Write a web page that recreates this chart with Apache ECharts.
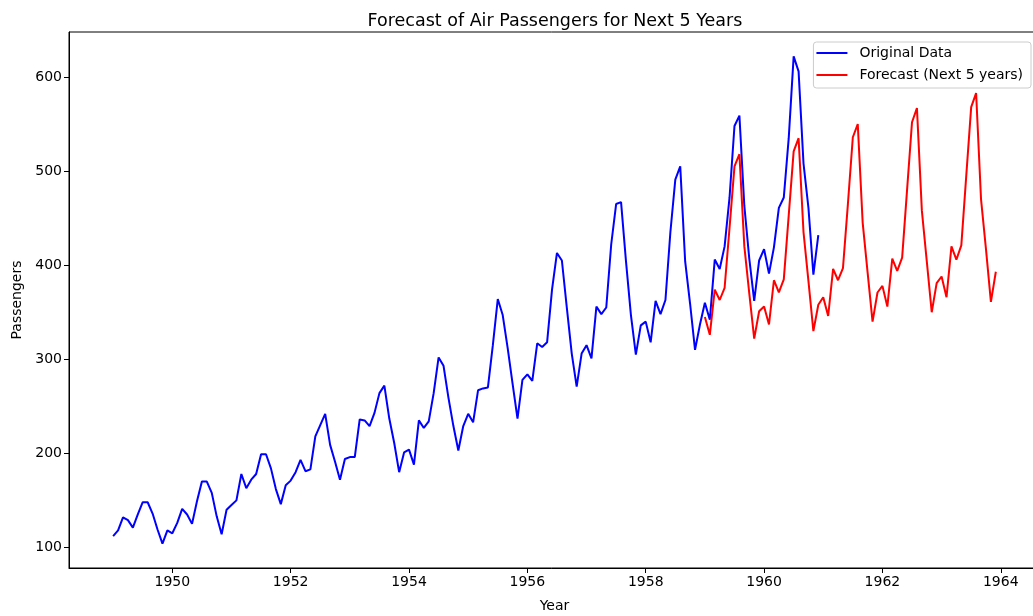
<!DOCTYPE html>
<html>
<head>
<meta charset="utf-8">
<script src="https://cdn.jsdelivr.net/npm/echarts@6/dist/echarts.min.js"></script>
<style>html,body{margin:0;padding:0;background:#fff;}#c{width:1033px;height:616px;}</style>
</head>
<body>
<div id="c"></div>
<script>
// Original monthly data, Jan 1949 – Dec 1960
const originalStartYear = 1949;
const originalValues = [
  112,118,132,129,121,135,148,148,136,119,104,118,
  115,126,141,135,125,149,170,170,158,133,114,140,
  145,150,178,163,172,178,199,199,184,162,146,166,
  171,180,193,181,183,218,230,242,209,191,172,194,
  196,196,236,235,229,243,264,272,237,211,180,201,
  204,188,235,227,234,264,302,293,259,229,203,229,
  242,233,267,269,270,315,364,347,312,274,237,278,
  284,277,317,313,318,374,413,405,355,306,271,306,
  315,301,356,348,355,422,465,467,404,347,305,336,
  340,318,362,348,363,435,491,505,404,359,310,337,
  360,342,406,396,420,472,548,559,463,407,362,405,
  417,391,419,461,472,535,622,606,508,461,390,432
];
// Forecast monthly data, Jan 1959 – Dec 1963
const forecastStartYear = 1959;
const forecastValues = [
  345,326,374,363,376,440,505,518,420,370,322,351,
  356,337,384,371,385,453,521,535,435,383,330,358,
  366,346,396,384,397,465,536,550,445,392,340,371,
  378,356,407,394,408,480,552,567,458,404,350,381,
  388,366,420,406,421,495,568,583,470,417,361,393
];
const xTicks = [1950,1952,1954,1956,1958,1960,1962,1964];
const yTicks = [100,200,300,400,500,600];

function toPairs(startYear, vals){
  return vals.map((v,i)=>[startYear + i/12, v]);
}
const origData = toPairs(originalStartYear, originalValues);
const fcData = toPairs(forecastStartYear, forecastValues);

const font = 'DejaVu Sans';
const chart = echarts.init(document.getElementById('c'), null, {renderer:'canvas'});
chart.setOption({
  animation:false,
  backgroundColor:'#fff',
  title:{
    text:'Forecast of Air Passengers for Next 5 Years',
    left:550, top:7, textAlign:'center',
    textStyle:{fontFamily:font,fontSize:17.5,fontWeight:'normal',color:'#000'}
  },
  legend:{
    right:2, top:42, orient:'vertical',
    backgroundColor:'rgba(255,255,255,0.8)',
    borderColor:'#cccccc', borderWidth:1, borderRadius:3,
    padding:[4,8,6,3], itemGap:8,
    itemWidth:31, itemHeight:2, icon:'rect',
    textStyle:{fontFamily:font,fontSize:14,color:'#000',padding:[0,0,0,7]},
    data:['Original Data','Forecast (Next 5 years)']
  },
  grid:{
    left:69, top:32, right:-7, bottom:48, outerBoundsMode:'none',
    show:true, borderColor:'#000', borderWidth:1, backgroundColor:'transparent'
  },
  xAxis:{
    type:'value', min:1948.254, max:1964.663,
    name:'Year', nameLocation:'middle', nameGap:31,
    nameTextStyle:{fontFamily:font,fontSize:14,color:'#000'},
    axisLine:{show:true,lineStyle:{color:'#000',width:1}},
    axisTick:{show:true,length:5,inside:false,lineStyle:{color:'#000'},customValues:xTicks},
    axisLabel:{fontFamily:font,fontSize:14,color:'#000',margin:7,customValues:xTicks,formatter:v=>String(Math.round(v))},
    splitLine:{show:false}
  },
  yAxis:{
    type:'value', min:78.1, max:647.9,
    name:'Passengers', nameLocation:'middle', nameGap:44, nameRotate:90,
    nameTextStyle:{fontFamily:font,fontSize:14,color:'#000'},
    axisLine:{show:true,lineStyle:{color:'#000',width:1}},
    axisTick:{show:true,length:5,inside:false,lineStyle:{color:'#000'},customValues:yTicks},
    axisLabel:{fontFamily:font,fontSize:14,color:'#000',margin:7,customValues:yTicks},
    splitLine:{show:false}
  },
  series:[
    {name:'Original Data',type:'line',data:origData,showSymbol:false,
     lineStyle:{color:'#0000ff',width:2},itemStyle:{color:'#0000ff'}},
    {name:'Forecast (Next 5 years)',type:'line',data:fcData,showSymbol:false,
     lineStyle:{color:'#ff0000',width:2},itemStyle:{color:'#ff0000'}}
  ]
});
</script>
</body>
</html>
